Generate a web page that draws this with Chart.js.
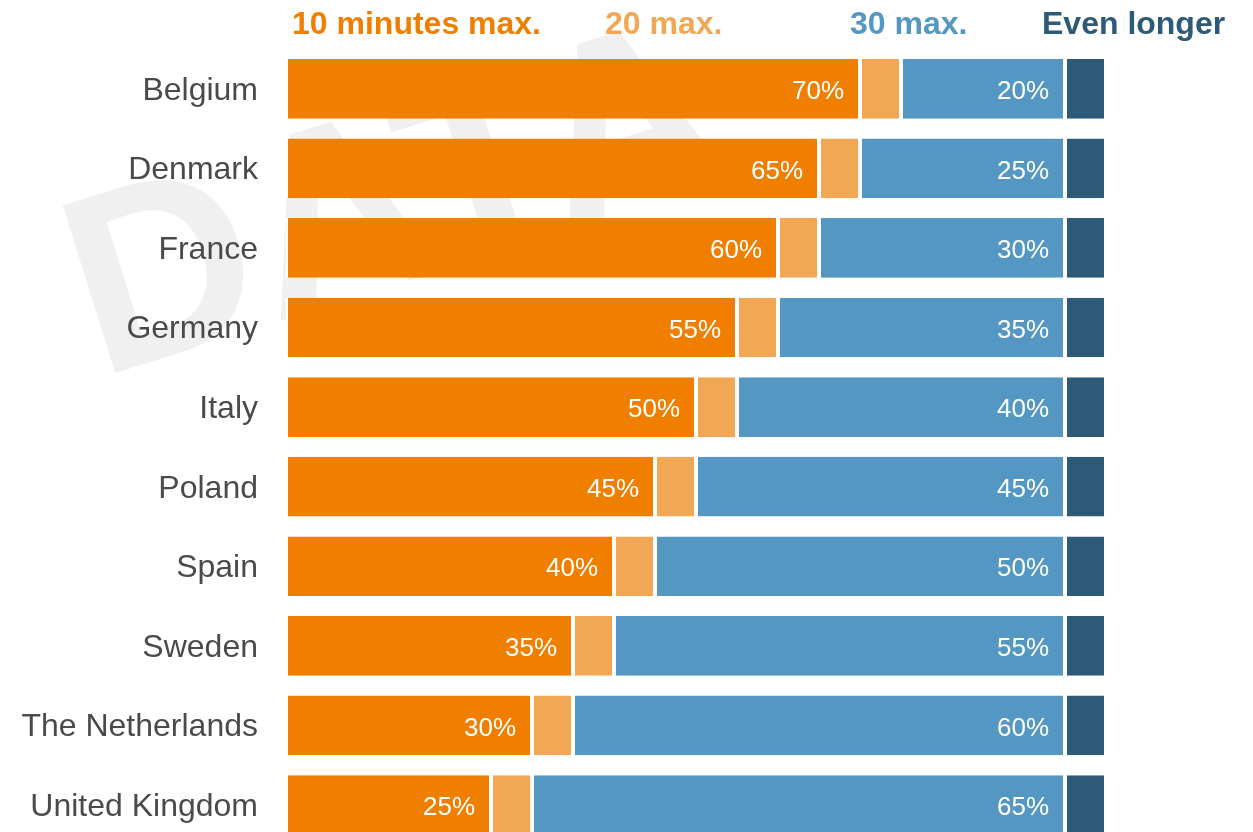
<!DOCTYPE html>
<html>
<head>
<meta charset="utf-8">
<script src="https://cdn.jsdelivr.net/npm/chart.js@4"></script>
<style>
  html, body { margin: 0; padding: 0; background: #fff; }
  #wrap { position: relative; width: 1253px; height: 832px; overflow: hidden; }
  #wrap canvas { position: absolute; left: 0; top: 0; }
  .leg { position: absolute; top: 7px; font: bold 32px "Liberation Sans", Arial, sans-serif; line-height: 32px; white-space: nowrap; }
</style>
</head>
<body>
<div id="wrap">
  <canvas id="commuteChart" width="1253" height="892"></canvas>
</div>
<script>
// Daten
const countries = ['Belgium', 'Denmark', 'France', 'Germany', 'Italy', 'Poland', 'Spain', 'Sweden', 'The Netherlands', 'United Kingdom'];
const tenMinutes = [70, 65, 60, 55, 50, 45, 40, 35, 30, 25];
const twentyMax = [5, 5, 5, 5, 5, 5, 5, 5, 5, 5];
const thirtyMax = [20, 25, 30, 35, 40, 45, 50, 55, 60, 65];
const evenLonger = [5, 5, 5, 5, 5, 5, 5, 5, 5, 5];
const seriesNames = ['10 minutes max.', '20 max.', '30 max.', 'Even longer'];
const seriesColors = ['#F07F00', '#F2A755', '#5397C2', '#2D5B77'];
const legendLeft = [292, 605, 850, 1042];

// Legende oben (HTML)
const wrap = document.getElementById('wrap');
seriesNames.forEach(function (name, i) {
    const d = document.createElement('div');
    d.className = 'leg';
    d.textContent = name;
    d.style.left = legendLeft[i] + 'px';
    d.style.color = seriesColors[i];
    wrap.appendChild(d);
});

// Wasserzeichen "DATA" hinter den Balken
const watermark = {
    id: 'watermark',
    beforeDraw(chart) {
        const ctx = chart.ctx;
        ctx.save();
        ctx.translate(99, 378);
        ctx.rotate(-17.4 * Math.PI / 180);
        ctx.font = 'bold 255px "Liberation Sans", Arial, sans-serif';
        ctx.fillStyle = '#f0f0f0';
        ctx.fillText('DATA', 0, 0);
        ctx.restore();
    }
};

// Prozentwerte in den Balken
const barLabels = {
    id: 'barLabels',
    afterDatasetsDraw(chart) {
        const ctx = chart.ctx;
        ctx.save();
        ctx.font = '26px "Liberation Sans", Arial, sans-serif';
        ctx.fillStyle = '#ffffff';
        ctx.textAlign = 'right';
        ctx.textBaseline = 'middle';
        [0, 2].forEach(function (di) {
            const meta = chart.getDatasetMeta(di);
            meta.data.forEach(function (bar, i) {
                const v = chart.data.datasets[di].data[i];
                ctx.fillText(v + '%', bar.x - 16, bar.y + 3);
            });
        });
        ctx.restore();
    }
};

const seriesData = [tenMinutes, twentyMax, thirtyMax, evenLonger];

new Chart(document.getElementById('commuteChart').getContext('2d'), {
    type: 'bar',
    data: {
        labels: countries,
        datasets: seriesNames.map(function (name, i) {
            return {
                label: name,
                data: seriesData[i],
                backgroundColor: seriesColors[i],
                borderColor: '#ffffff',
                borderWidth: { left: 2, right: 2, top: 0, bottom: 0 },
                borderSkipped: false,
                barPercentage: 0.75,
                categoryPercentage: 1
            };
        })
    },
    options: {
        indexAxis: 'y',
        responsive: false,
        animation: false,
        layout: { padding: { left: 22, right: 147, top: 49, bottom: 1 } },
        plugins: {
            legend: { display: false },
            tooltip: { enabled: false }
        },
        scales: {
            x: { stacked: true, min: 0, max: 100, display: false },
            y: {
                stacked: true,
                grid: { display: false, drawTicks: false },
                border: { display: false },
                afterFit: function (s) { s.width = 264; },
                ticks: {
                    color: '#4a4a4a',
                    padding: 28,
                    labelOffset: 2,
                    font: { size: 32, family: '"Liberation Sans", Arial, sans-serif' }
                }
            }
        }
    },
    plugins: [watermark, barLabels]
});
</script>
</body>
</html>
